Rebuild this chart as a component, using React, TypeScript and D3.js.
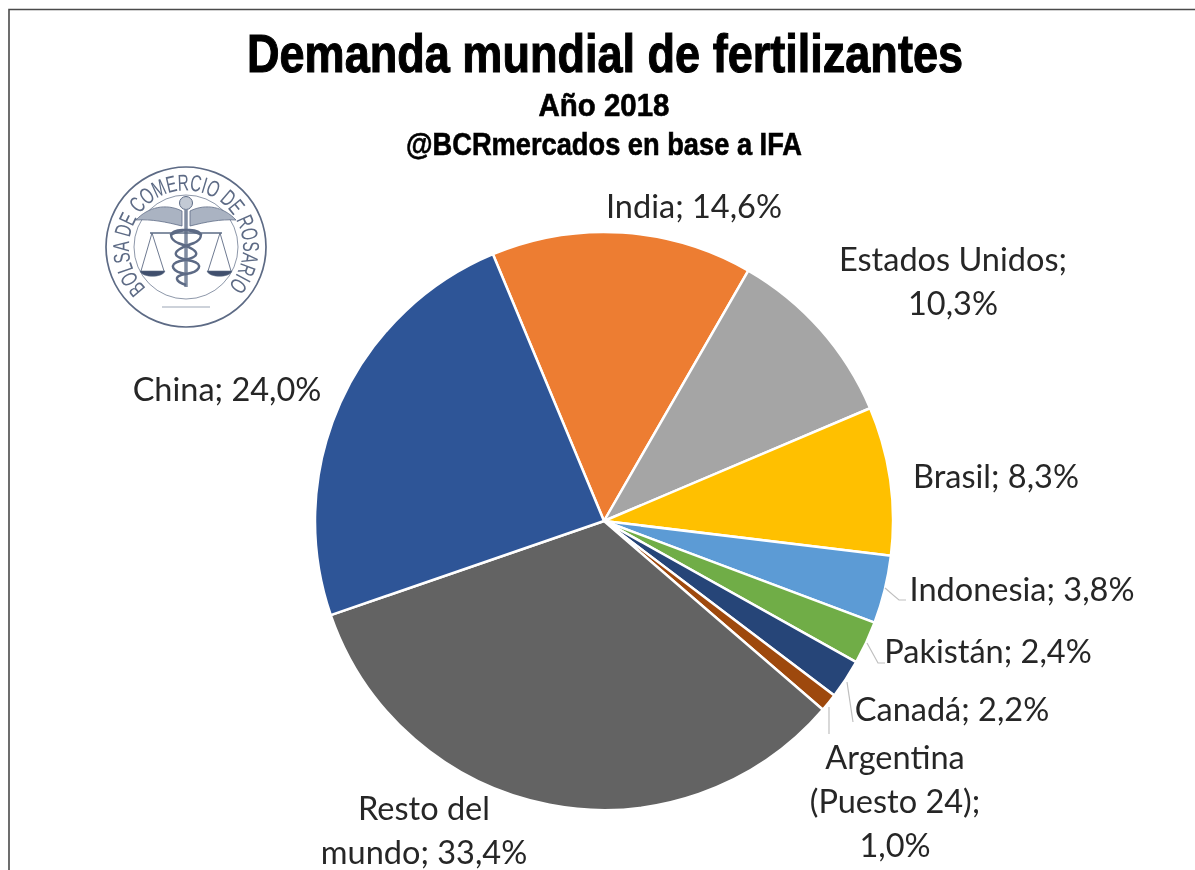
import React from "react";
import * as d3 from "d3";

const categories = ["India", "Estados Unidos", "Brasil", "Indonesia", "Pakistán", "Canadá", "Argentina (Puesto 24)", "Resto del mundo", "China"];
const shares = [14.6, 10.3, 8.3, 3.8, 2.4, 2.2, 1.0, 33.4, 24.0];
const colors = ["#ED7D31", "#A5A5A5", "#FFC000", "#5B9BD5", "#70AD47", "#264478", "#9E480E", "#636363", "#2F5597"];
const labelLines = [["India; 14,6%"], ["Estados Unidos;", "10,3%"], ["Brasil; 8,3%"], ["Indonesia; 3,8%"], ["Pakistán; 2,4%"], ["Canadá; 2,2%"], ["Argentina", "(Puesto 24);", "1,0%"], ["Resto del", "mundo; 33,4%"], ["China; 24,0%"]];
const labelAnchors: [number, number][] = [[694, 218], [953, 271], [996, 488], [1022, 601], [988, 663], [952, 721], [895, 769], [424, 820], [227, 401]];
const leaders = [
  [[885, 588], [899, 600], [906, 600]],
  [[867, 643], [878, 663], [885, 663]],
  [[847, 682], [853, 722]],
  [[829, 707], [829, 734]],
];
const titleText = "Demanda mundial de fertilizantes";
const subtitleText = "Año 2018";
const sourceText = "@BCRmercados en base a IFA";
const logoText = "BOLSA DE COMERCIO DE ROSARIO";

const cx = 604, cy = 521, radius = 289;
const startAngle = (-22.6 * Math.PI) / 180;
const font = "Lato, Carlito, sans-serif";
const head = "'Liberation Sans Narrow', 'Liberation Sans', Arial, sans-serif";
const ink = "#262626";
const seal = "#5d6b85";

function Logo() {
  return (
    <g transform="translate(186,247)" fill="none" stroke={seal}>
      <circle r={80} strokeWidth={1.7} />
      <circle r={52} strokeWidth={1} opacity={0.7} />
      <defs>
        <path id="sealArc" d="M -40 41 A 57 57 0 1 1 40 41" />
      </defs>
      <text fontFamily="'Liberation Sans', sans-serif" fontSize={23} fill={seal} stroke="none" textLength={266} lengthAdjust="spacingAndGlyphs">
        <textPath href="#sealArc">{logoText}</textPath>
      </text>
      {/* wings */}
      <path d="M-4 -36 C-20 -44 -38 -40 -50 -27 C-34 -28 -20 -25 -4 -21 Z" fill="#aab3c2" strokeWidth={0.8} />
      <path d="M4 -36 C20 -44 38 -40 50 -27 C34 -28 20 -25 4 -21 Z" fill="#aab3c2" strokeWidth={0.8} />
      {/* staff */}
      <circle cy={-44} r={6.5} fill="#c3cad5" strokeWidth={1} />
      <path d="M0 -38 V40" strokeWidth={3.5} stroke="#7f8ba0" />
      {/* snake */}
      <path d="M-16 -12 C10 -24 24 -12 8 -4 C-16 4 -16 10 6 14 C18 17 14 25 0 27 C-14 29 -10 35 0 38" strokeWidth={2.4} />
      <path d="M16 -12 C-10 -24 -24 -12 -8 -4 C16 4 16 10 -6 14 C-18 17 -14 25 0 27" strokeWidth={2.4} />
      {/* balance */}
      <path d="M-36 -14 H36" strokeWidth={1.6} />
      <path d="M-34 -14 L-45 24 M-34 -14 L-22 24 M34 -14 L22 24 M34 -14 L45 24" strokeWidth={0.9} />
      <path d="M-46 24 H-21 C-23 31 -44 31 -46 24 Z" fill="#3f4f6d" strokeWidth={0.6} />
      <path d="M21 24 H46 C44 31 23 31 21 24 Z" fill="#3f4f6d" strokeWidth={0.6} />
      <path d="M-24 60 H24" strokeWidth={1.2} opacity={0.6} />
    </g>
  );
}

export default function App() {
  const arcs = d3.pie<number>().sort(null).startAngle(startAngle).endAngle(startAngle + 2 * Math.PI)(shares);
  const arc = d3.arc<d3.PieArcDatum<number>>().innerRadius(0).outerRadius(radius);
  const lineGen = d3.line();
  return (
    <svg width={1195} height={870} viewBox="0 0 1195 870" style={{ position: "fixed", left: 0, top: 0, background: "#fff" }}>
      <defs>
        <filter id="soft" x="-5%" y="-5%" width="110%" height="110%">
          <feGaussianBlur stdDeviation={0.55} />
        </filter>
      </defs>
      <path d="M9 870 V9.5 H1195" fill="none" stroke="#4a4a4a" strokeWidth={1.6} />
      <g filter="url(#soft)">
        <text x={605} y={72} textAnchor="middle" fontFamily={head} fontWeight={700} fontSize={54} fill="#000" stroke="#000" strokeWidth={1.1} textLength={716} lengthAdjust="spacingAndGlyphs">{titleText}</text>
        <text x={604} y={116} textAnchor="middle" fontFamily={head} fontWeight={700} fontSize={31} fill="#000" stroke="#000" strokeWidth={0.6} textLength={131} lengthAdjust="spacingAndGlyphs">{subtitleText}</text>
        <text x={604} y={155} textAnchor="middle" fontFamily={head} fontWeight={700} fontSize={31} fill="#000" stroke="#000" strokeWidth={0.6} textLength={396} lengthAdjust="spacingAndGlyphs">{sourceText}</text>
        <Logo />
        <g transform={`translate(${cx},${cy})`}>
          {arcs.map((a, i) => (
            <path key={categories[i]} d={arc(a) ?? ""} fill={colors[i]} stroke="#fff" strokeWidth={2.5} strokeLinejoin="round" />
          ))}
        </g>
        {leaders.map((pts, i) => (
          <path key={i} d={lineGen(pts as [number, number][]) ?? ""} fill="none" stroke="#bfbfbf" strokeWidth={1.2} />
        ))}
        {labelLines.map((lines, i) => (
          <text key={categories[i]} x={labelAnchors[i][0]} y={labelAnchors[i][1]} textAnchor="middle" fontFamily={font} fontSize={32.5} fill={ink}>
            {lines.map((l, j) => (
              <tspan key={j} x={labelAnchors[i][0]} dy={j === 0 ? 0 : 44}>{l}</tspan>
            ))}
          </text>
        ))}
      </g>
    </svg>
  );
}
